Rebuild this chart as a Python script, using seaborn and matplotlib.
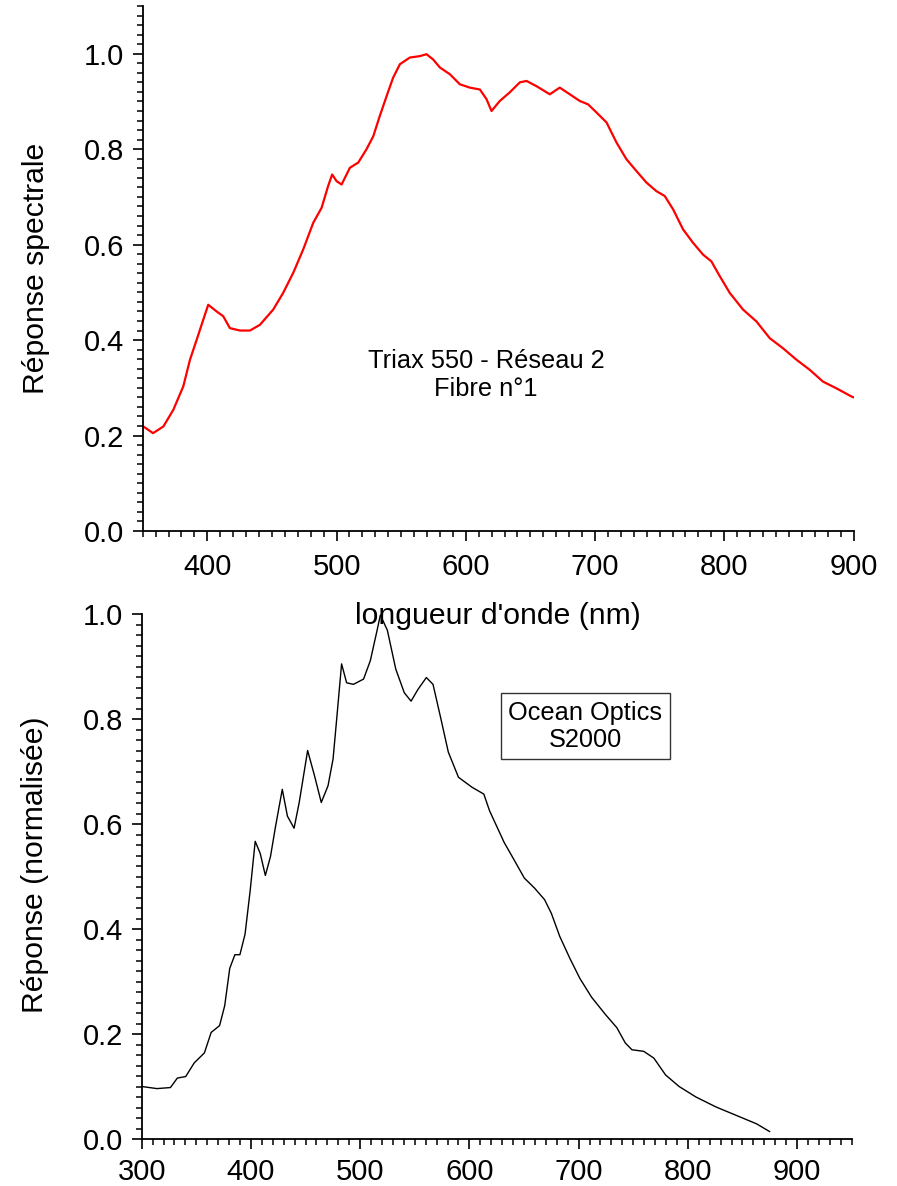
import matplotlib
matplotlib.use("Agg")
import matplotlib.pyplot as plt
from matplotlib.ticker import MultipleLocator, FormatStrFormatter
import seaborn as sns
import pandas as pd

# --- Data ---
triax_wavelength = [350.5, 358, 366, 373.7, 381.4, 386.6, 391.8, 396.9, 400.7, 407.2,
                    412.3, 417.5, 425.3, 433, 440.7, 451, 458.7, 466.5, 474.2, 482,
                    488.4, 493.5, 496.6, 500, 503.9, 510.3, 516.8, 523.2, 528.4, 533.5,
                    538.7, 543.8, 549, 556.7, 564.5, 569.6, 574.7, 580, 587.7, 595.4,
                    603.1, 610.9, 616, 619.9, 626.3, 634, 641.8, 647, 654.7, 665,
                    672.7, 680.5, 688.2, 694.6, 701.1, 708.9, 716.6, 724.3, 732.1, 739.8,
                    747.5, 753.9, 760.4, 768.1, 775.8, 783.6, 790, 796.5, 804.2, 814.5,
                    824.9, 835.2, 845.4, 855.8, 866, 876.4, 886.7, 898.3, 900]
triax_response = [0.219, 0.205, 0.219, 0.254, 0.303, 0.359, 0.401, 0.443, 0.474, 0.460,
                  0.450, 0.425, 0.420, 0.420, 0.432, 0.464, 0.499, 0.541, 0.590, 0.646,
                  0.677, 0.723, 0.747, 0.733, 0.726, 0.761, 0.772, 0.800, 0.827, 0.870,
                  0.911, 0.950, 0.978, 0.992, 0.995, 0.999, 0.988, 0.971, 0.957, 0.936,
                  0.929, 0.925, 0.905, 0.880, 0.901, 0.919, 0.940, 0.943, 0.932, 0.915,
                  0.929, 0.915, 0.901, 0.894, 0.877, 0.856, 0.814, 0.779, 0.754, 0.730,
                  0.712, 0.702, 0.674, 0.632, 0.604, 0.579, 0.565, 0.534, 0.499, 0.464,
                  0.439, 0.404, 0.383, 0.359, 0.338, 0.313, 0.299, 0.282, 0.280]

ocean_wavelength = [300, 314, 326.3, 332.6, 340.3, 348.1, 357.4, 363.6, 371.3, 376,
                    380.6, 385.3, 389.9, 394.6, 399.3, 403.9, 408.5, 413.2, 417.9, 422.5,
                    428.7, 433.4, 439.5, 444.2, 451.9, 458.2, 464.4, 470.6, 475.2, 478.3,
                    483, 487.6, 493.8, 503.1, 509.3, 515.5, 518.5, 524.9, 532.6, 540.4,
                    546.6, 552.8, 560.6, 566.7, 574.5, 580.7, 590, 602.4, 613.2, 618.5,
                    631.8, 641.1, 650.3, 659.6, 668.8, 675, 682.7, 692, 701.1, 711.9,
                    724.2, 735, 742.7, 748.8, 759.6, 768.9, 779.6, 792, 807.4, 825.8,
                    844.3, 862.8, 875]
ocean_response = [0.100, 0.096, 0.098, 0.116, 0.119, 0.145, 0.164, 0.203, 0.216, 0.254,
                  0.325, 0.351, 0.351, 0.390, 0.473, 0.567, 0.544, 0.502, 0.538, 0.595,
                  0.666, 0.615, 0.592, 0.641, 0.740, 0.692, 0.641, 0.673, 0.724, 0.795,
                  0.905, 0.869, 0.866, 0.876, 0.911, 0.969, 0.998, 0.969, 0.895, 0.850,
                  0.834, 0.856, 0.879, 0.866, 0.795, 0.737, 0.689, 0.670, 0.657, 0.625,
                  0.565, 0.531, 0.497, 0.478, 0.456, 0.430, 0.386, 0.344, 0.306, 0.270,
                  0.238, 0.212, 0.183, 0.170, 0.167, 0.154, 0.122, 0.100, 0.080, 0.061,
                  0.045, 0.029, 0.014]

top_ylabel = "Réponse spectrale"
bottom_ylabel = "Réponse (normalisée)"
xlabel = "longueur d'onde (nm)"
top_note = "Triax 550 - Réseau 2\nFibre n°1"
bottom_note = "Ocean Optics\nS2000"

# --- Style ---
sns.set_style("ticks")
plt.rcParams['font.family'] = ['Liberation Sans', 'DejaVu Sans']
plt.rcParams['text.color'] = 'black'
plt.rcParams['axes.labelcolor'] = 'black'
plt.rcParams['xtick.color'] = 'black'
plt.rcParams['ytick.color'] = 'black'

fig = plt.figure(figsize=(8.97, 11.86), dpi=100)
W, H = 897, 1186
ax1 = fig.add_axes([142.7 / W, 1 - 531 / H, (853.5 - 142.7) / W, (531 - 6) / H])
ax2 = fig.add_axes([141.7 / W, 1 - 1139 / H, (851.7 - 141.7) / W, (1139 - 614) / H])
ax2.set_facecolor("none")

df_top = pd.DataFrame({"wl": triax_wavelength, "r": triax_response})
df_bot = pd.DataFrame({"wl": ocean_wavelength, "r": ocean_response})

sns.lineplot(data=df_top, x="wl", y="r", ax=ax1, color="#ff0000", lw=1.6,
             estimator=None, sort=False)
sns.lineplot(data=df_bot, x="wl", y="r", ax=ax2, color="black", lw=1.0,
             estimator=None, sort=False)

ax1.set_xlim(350, 900)
ax1.set_ylim(0, 1.1)
ax2.set_xlim(300, 950)
ax2.set_ylim(0, 1.0)

for ax in (ax1, ax2):
    for side in ("top", "right"):
        ax.spines[side].set_visible(False)
    for side in ("left", "bottom"):
        ax.spines[side].set_linewidth(1.3)
        ax.spines[side].set_color("black")
    ax.xaxis.set_major_locator(MultipleLocator(100))
    ax.xaxis.set_minor_locator(MultipleLocator(10))
    ax.yaxis.set_major_locator(MultipleLocator(0.2))
    ax.yaxis.set_minor_locator(MultipleLocator(0.02))
    ax.yaxis.set_major_formatter(FormatStrFormatter('%.1f'))
    ax.tick_params(which="major", direction="out", length=7.5, width=1.2,
                   labelsize=21, color="black", labelcolor="black")
    ax.tick_params(which="minor", direction="out", length=4, width=1.1, color="black")
    ax.tick_params(axis="y", which="major", pad=6)
    ax.set_xlabel("")
    ax.set_ylabel("")

ax1.tick_params(axis="x", which="major", pad=8)
ax2.tick_params(axis="x", which="major", pad=6)

ax1.set_xlabel(xlabel, fontsize=21.7, color="black")
ax1.xaxis.set_label_coords(0.5, -0.135)
ax1.set_ylabel(top_ylabel, fontsize=21.7, color="black")
ax1.yaxis.set_label_coords(-0.13, 0.5)
ax2.set_ylabel(bottom_ylabel, fontsize=21.7, color="black")
ax2.yaxis.set_label_coords(-0.13, 0.522)

ax1.text(615.5, 0.327, top_note, fontsize=18.3, ha="center", va="center",
         linespacing=1.25, color="black")
ax2.text(706, 0.786, bottom_note, fontsize=18.3, ha="center", va="center",
         linespacing=1.15, color="black",
         bbox=dict(boxstyle="square,pad=0.3", facecolor="white",
                   edgecolor="#333333", linewidth=1.0))

fig.savefig("out.png", dpi=100)
